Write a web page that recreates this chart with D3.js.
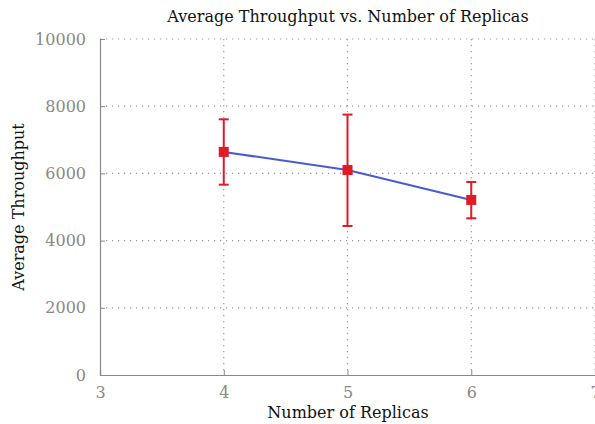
<!DOCTYPE html>
<html>
<head>
<meta charset="utf-8">
<script src="https://cdn.jsdelivr.net/npm/d3@7"></script>
<style>
  body { margin: 0; background: #fff; }
  text { font-family: "DejaVu Serif", "Liberation Serif", serif; }
</style>
</head>
<body>
<div id="chart"></div>
<script>
// data
var replicas = [4, 5, 6];
var meanThroughput = [6640, 6100, 5210];
var upperErr = [7610, 7750, 5745];
var lowerErr = [5665, 4435, 4665];
var xTicks = [3, 4, 5, 6, 7];
var yTicks = [0, 2000, 4000, 6000, 8000, 10000];

var W = 595, H = 424;
var margin = {top: 39, right: 0, bottom: 49, left: 100};
var width = W - margin.left - margin.right,
    height = H - margin.top - margin.bottom;

var svg = d3.select("#chart").append("svg")
  .attr("width", W).attr("height", H);
var g = svg.append("g")
  .attr("transform", "translate(" + margin.left + "," + margin.top + ")");

var x = d3.scaleLinear().domain([3, 7]).range([0, width]);
var y = d3.scaleLinear().domain([0, 10000]).range([height, 0]);

// grid
g.selectAll(".hgrid").data(yTicks.slice(1)).enter().append("line")
  .attr("x1", 0).attr("x2", width)
  .attr("y1", function(d){ return y(d); }).attr("y2", function(d){ return y(d); })
  .attr("stroke", "#999").attr("stroke-width", 1.2).attr("stroke-dasharray", "1.2,4.8");
g.selectAll(".vgrid").data(xTicks.slice(1)).enter().append("line")
  .attr("x1", function(d){ return x(d); }).attr("x2", function(d){ return x(d); })
  .attr("y1", 0).attr("y2", height)
  .attr("stroke", "#999").attr("stroke-width", 1.2).attr("stroke-dasharray", "1.2,4.8");

// axes
var xAxis = g.append("g")
  .attr("transform", "translate(0," + height + ")")
  .call(d3.axisBottom(x).tickValues(xTicks).tickSize(-5).tickPadding(9).tickFormat(d3.format("d")));
var yAxis = g.append("g")
  .call(d3.axisLeft(y).tickValues(yTicks).tickSize(-5).tickPadding(14).tickFormat(d3.format("d")));
[xAxis, yAxis].forEach(function(a) {
  a.select(".domain").attr("stroke", "#888").attr("stroke-width", 1.2);
  a.selectAll(".tick line").attr("stroke", "#888");
  a.selectAll(".tick text").attr("fill", "#888").style("font-size", "16px")
    .style("font-family", "'DejaVu Serif', serif");
});
xAxis.selectAll(".tick text").attr("dy", "0.85em");

// line
g.append("path")
  .datum(replicas)
  .attr("fill", "none")
  .attr("stroke", "#4a5bd0")
  .attr("stroke-width", 2)
  .attr("d", d3.line()
    .x(function(d){ return x(d); })
    .y(function(d, i){ return y(meanThroughput[i]); }));

// error bars
var red = "#e01b24";
var capW = 5;
g.selectAll(".err").data(replicas).enter().append("line")
  .attr("x1", function(d){ return x(d); }).attr("x2", function(d){ return x(d); })
  .attr("y1", function(d, i){ return y(upperErr[i]); })
  .attr("y2", function(d, i){ return y(lowerErr[i]); })
  .attr("stroke", red).attr("stroke-width", 2);
g.selectAll(".capTop").data(replicas).enter().append("line")
  .attr("x1", function(d){ return x(d) - capW; }).attr("x2", function(d){ return x(d) + capW; })
  .attr("y1", function(d, i){ return y(upperErr[i]); })
  .attr("y2", function(d, i){ return y(upperErr[i]); })
  .attr("stroke", red).attr("stroke-width", 2);
g.selectAll(".capBot").data(replicas).enter().append("line")
  .attr("x1", function(d){ return x(d) - capW; }).attr("x2", function(d){ return x(d) + capW; })
  .attr("y1", function(d, i){ return y(lowerErr[i]); })
  .attr("y2", function(d, i){ return y(lowerErr[i]); })
  .attr("stroke", red).attr("stroke-width", 2);

// markers
var ms = 10;
g.selectAll(".pt").data(replicas).enter().append("rect")
  .attr("x", function(d){ return x(d) - ms / 2; })
  .attr("y", function(d, i){ return y(meanThroughput[i]) - ms / 2; })
  .attr("width", ms).attr("height", ms)
  .attr("fill", red);

// labels
svg.append("text")
  .attr("x", 348).attr("y", 22)
  .attr("text-anchor", "middle")
  .style("font-size", "16px").attr("fill", "#111")
  .text("Average Throughput vs. Number of Replicas");
svg.append("text")
  .attr("x", 348).attr("y", 418)
  .attr("text-anchor", "middle")
  .style("font-size", "16px").attr("fill", "#111")
  .text("Number of Replicas");
svg.append("text")
  .attr("transform", "translate(24," + (margin.top + height / 2) + ") rotate(-90)")
  .attr("text-anchor", "middle")
  .style("font-size", "16px").attr("fill", "#111")
  .text("Average Throughput");
</script>
</body>
</html>
